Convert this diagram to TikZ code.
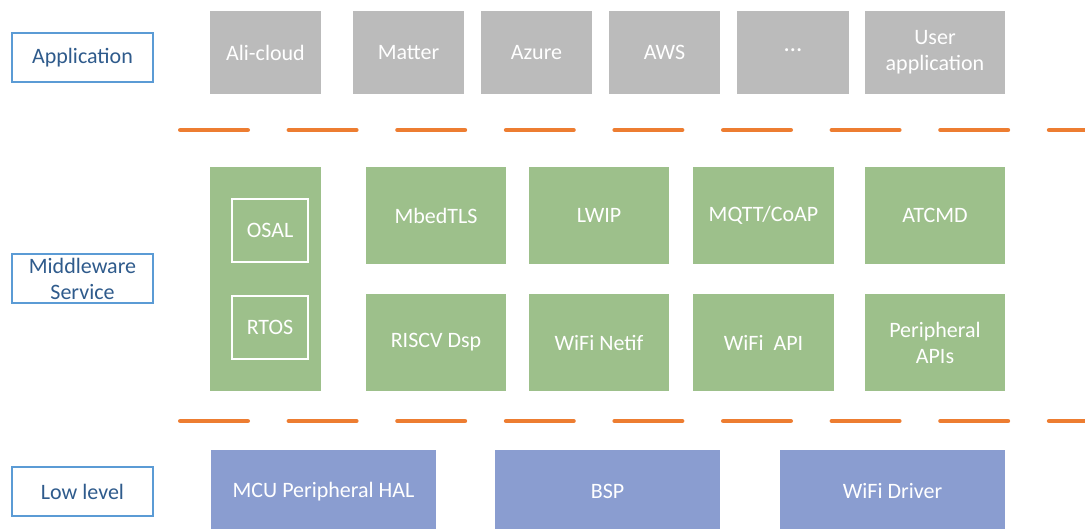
\documentclass[tikz,border=0pt]{standalone}
\usepackage{fontspec}
\setmainfont{Carlito}
\definecolor{appgrey}{HTML}{BBBBBB}
\definecolor{midgreen}{HTML}{9DC08B}
\definecolor{lowblue}{HTML}{8A9DD0}
\definecolor{sepor}{HTML}{ED7D31}
\definecolor{lblborder}{HTML}{5B9BD5}
\definecolor{lbltext}{HTML}{2F5B8C}
\begin{document}
\begin{tikzpicture}[x=1pt,y=-1pt,
  box/.style={inner sep=0pt, outer sep=0pt, align=center, text=white,
    font=\fontsize{22}{26}\selectfont},
  greybox/.style={box, fill=appgrey, minimum height=83},
  greenbox/.style={box, fill=midgreen, minimum height=97},
  bluebox/.style={box, fill=lowblue, minimum height=83, minimum width=225},
  innerbox/.style={box, draw=white, line width=2pt, minimum width=76, minimum height=63},
  lbl/.style={draw=lblborder, line width=1.6pt, fill=white, text=lbltext, align=center,
    inner sep=0pt, outer sep=0pt, minimum width=141.5, minimum height=49.5,
    font=\fontsize{22}{26}\selectfont},
  sepline/.style={draw=sepor, line width=4.5pt, line cap=round, dash pattern=on 67.5pt off 41.1pt}
]
\useasboundingbox (0,0) rectangle (1085,529);
\clip (0,0) rectangle (1085,529);

% layer labels
\node[lbl] (lapp) at (82.5,57.5) {Application};
\node[lbl] (lmid) at (82.5,278.5) {Middleware\\Service};
\node[lbl] (llow) at (82.5,491.5) {Low level};

% application layer
\node[greybox, minimum width=111] (ali) at (265.5,52.5) {Ali-cloud};
\node[greybox, minimum width=111] (matter) at (408.5,52.5) {Matter};
\node[greybox, minimum width=111] (azure) at (536.5,52.5) {Azure};
\node[greybox, minimum width=111] (aws) at (664.5,52.5) {AWS};
\node[greybox, minimum width=112] (more) at (793,52.5) {\raisebox{5pt}{\fontsize{25}{26}\selectfont …}};
\node[greybox, minimum width=140] (user) at (935,52.5) {User\\application};

% separators
\coordinate (s1a) at (180.25,130);
\coordinate (s1b) at (1100,130);
\coordinate (s2a) at (180.25,421);
\coordinate (s2b) at (1100,421);
\draw[sepline] (s1a) -- (s1b);
\draw[sepline] (s2a) -- (s2b);

% middleware layer
\node[box, fill=midgreen, minimum width=111, minimum height=224] (os) at (265.5,279) {};
\node[innerbox] (osal) at (270,230.5) {OSAL};
\node[innerbox] (rtos) at (270,327.5) {RTOS};

\node[greenbox, minimum width=140] (mbed) at (436,215.5) {MbedTLS};
\node[greenbox, minimum width=140] (lwip) at (599,215.5) {LWIP};
\node[greenbox, minimum width=141] (mqtt) at (763.5,215.5) {MQTT/CoAP};
\node[greenbox, minimum width=140] (atcmd) at (935,215.5) {ATCMD};

\node[greenbox, minimum width=140] (riscv) at (436,342.5) {RISCV Dsp};
\node[greenbox, minimum width=140] (netif) at (599,342.5) {WiFi Netif};
\node[greenbox, minimum width=141] (wifiapi) at (763.5,342.5) {WiFi~ API};
\node[greenbox, minimum width=140] (periph) at (935,342.5) {Peripheral\\APIs};

% low level
\node[bluebox] (hal) at (323.5,491.5) {MCU Peripheral HAL};
\node[bluebox] (bsp) at (607.5,491.5) {BSP};
\node[bluebox] (drv) at (892.5,491.5) {WiFi Driver};
\end{tikzpicture}
\end{document}
